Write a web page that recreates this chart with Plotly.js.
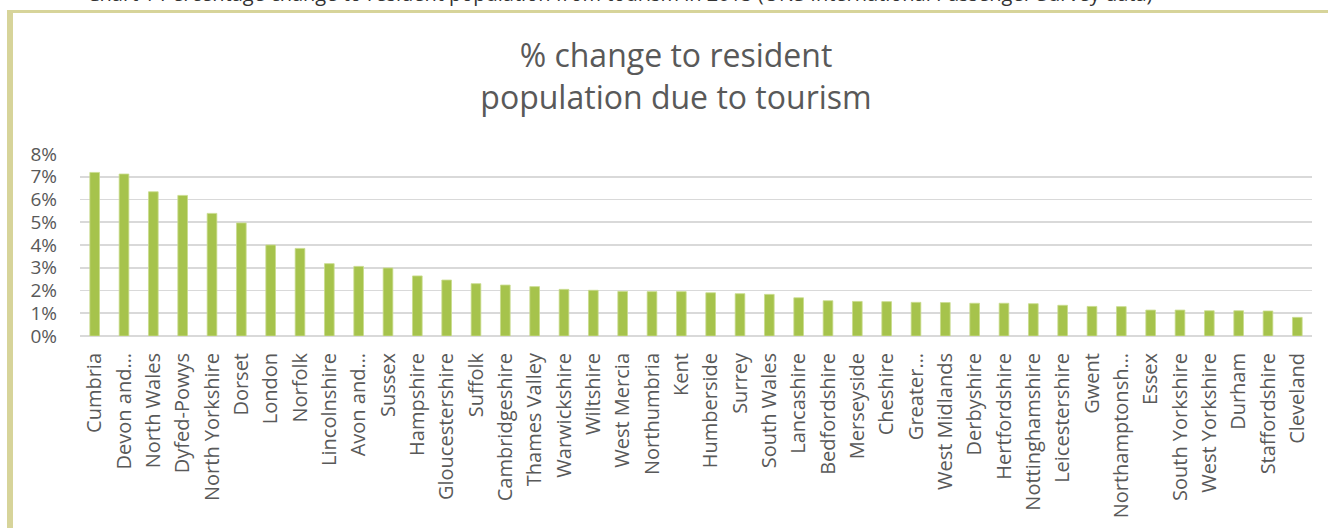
<!DOCTYPE html>
<html>
<head>
<meta charset="utf-8">
<script src="https://cdn.plot.ly/plotly-3.0.1.min.js"></script>
<style>
  html, body { margin: 0; padding: 0; background: #ffffff; }
  #chart { width: 1328px; height: 528px; }
</style>
</head>
<body>
<div id="chart"></div>
<script>
// ---- data ----
const categories = [
  "Cumbria", "Devon and…", "North Wales", "Dyfed-Powys", "North Yorkshire", "Dorset",
  "London", "Norfolk", "Lincolnshire", "Avon and…", "Sussex", "Hampshire",
  "Gloucestershire", "Suffolk", "Cambridgeshire", "Thames Valley", "Warwickshire",
  "Wiltshire", "West Mercia", "Northumbria", "Kent", "Humberside", "Surrey",
  "South Wales", "Lancashire", "Bedfordshire", "Merseyside", "Cheshire", "Greater…",
  "West Midlands", "Derbyshire", "Hertfordshire", "Nottinghamshire", "Leicestershire",
  "Gwent", "Northamptonsh…", "Essex", "South Yorkshire", "West Yorkshire", "Durham",
  "Staffordshire", "Cleveland"
];
const pctChange = [
  0.0719, 0.0712, 0.0634, 0.0618, 0.0539, 0.0497,
  0.0400, 0.0385, 0.0318, 0.0306, 0.0299, 0.0264,
  0.0246, 0.0230, 0.0224, 0.0217, 0.0205,
  0.0201, 0.0196, 0.0195, 0.0195, 0.0190, 0.0186,
  0.0183, 0.0168, 0.0155, 0.0152, 0.0151, 0.0148,
  0.0147, 0.0144, 0.0144, 0.0142, 0.0135,
  0.0130, 0.0129, 0.0114, 0.0114, 0.0111, 0.0111,
  0.0110, 0.0082
];
const chartTitle = "% change to resident<br>population due to tourism";
const captionText = "Chart 1 Percentage change to resident population from tourism in 2015 (ONS International Passenger Survey data)";

// ---- layout helpers ----
const W = 1328, H = 528;
const M = { l: 80, r: 16, t: 154, b: 192 };
const pw = W - M.l - M.r, ph = H - M.t - M.b;
const px = x => (x - M.l) / pw;          // pixel -> paper x
const py = y => (H - M.b - y) / ph;      // pixel -> paper y

const textColor = "#595959";
const font = "Open Sans, sans-serif";
const frameColor = "#d7d49a";

const trace = {
  type: "bar",
  x: categories,
  y: pctChange,
  marker: { color: "#a6c34c", line: { color: "#c9dc8e", width: 0.8 } },
  hoverinfo: "x+y"
};

const layout = {
  width: W, height: H,
  margin: M,
  paper_bgcolor: "#ffffff",
  plot_bgcolor: "#ffffff",
  showlegend: false,
  bargap: 0.67,
  font: { family: font, color: textColor, size: 20 },
  title: {
    text: chartTitle,
    font: { family: font, size: 32, color: textColor },
    xref: "container", x: 676 / W, xanchor: "center",
    yref: "container", y: 1 - 67 / H, yanchor: "top"
  },
  xaxis: {
    type: "category",
    tickangle: -90,
    ticks: "",
    showgrid: false,
    showline: false,
    zeroline: false,
    tickfont: { family: font, size: 20, color: textColor },
    ticklabelstandoff: 12,
    automargin: false
  },
  yaxis: {
    range: [0, 0.08],
    dtick: 0.01,
    tickformat: ".0%",
    ticks: "",
    showgrid: true,
    gridcolor: "#d9d9d9",
    gridwidth: 1.6,
    zeroline: true,
    zerolinecolor: "#d9d9d9",
    zerolinewidth: 1.6,
    showline: false,
    tickfont: { family: font, size: 19, color: textColor },
    ticklabelstandoff: 22,
    automargin: false
  },
  shapes: [
    { type: "rect", xref: "paper", yref: "paper", layer: "above",
      x0: px(7), x1: px(W + 5), y0: py(13), y1: py(10),
      fillcolor: frameColor, line: { width: 0 } },
    { type: "rect", xref: "paper", yref: "paper", layer: "above",
      x0: px(7), x1: px(13), y0: py(H + 5), y1: py(10),
      fillcolor: frameColor, line: { width: 0 } }
  ],
  annotations: [
    { text: captionText, showarrow: false,
      xref: "paper", yref: "paper",
      x: px(85), xanchor: "left",
      y: py(9), yanchor: "bottom",
      font: { family: font, size: 20, color: "#333333" } }
  ]
};

Plotly.newPlot("chart", [trace], layout, { displayModeBar: false, staticPlot: true });
</script>
</body>
</html>
